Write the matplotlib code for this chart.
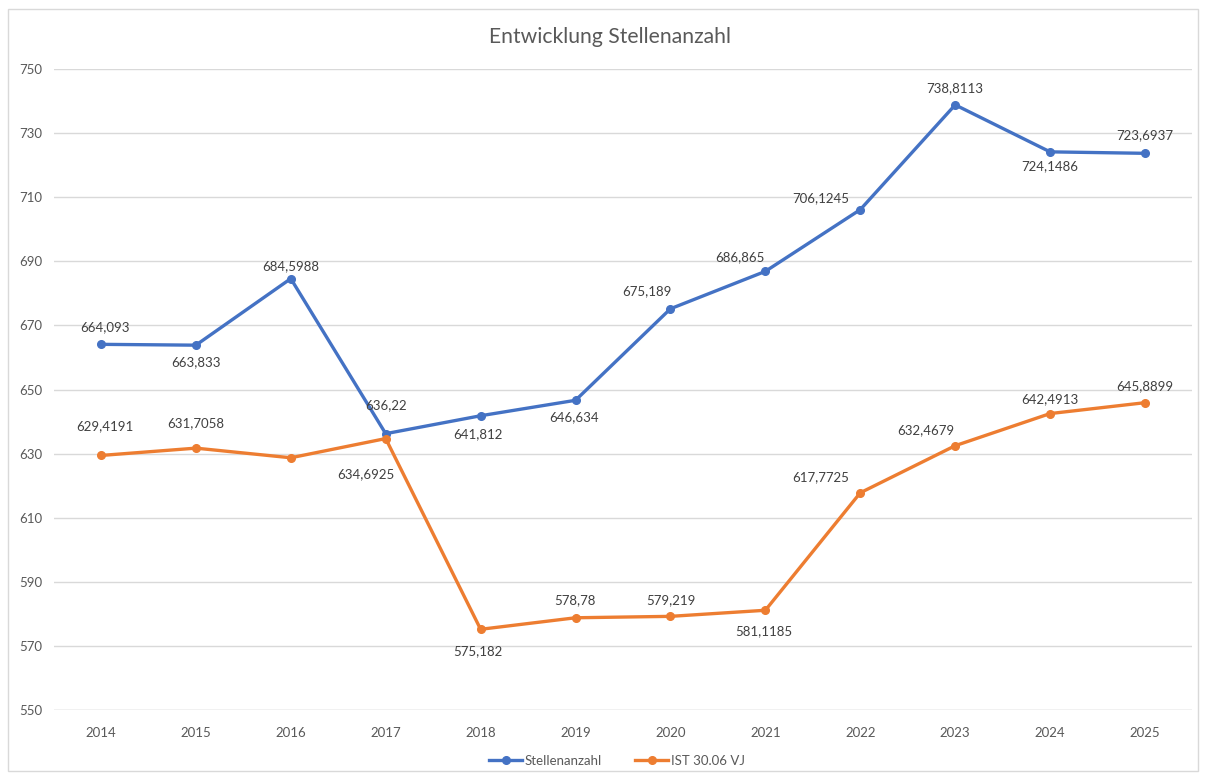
import matplotlib.pyplot as plt
from matplotlib.lines import Line2D
from matplotlib.patches import Rectangle

plt.rcParams['font.family'] = ['Lato', 'DejaVu Sans']

years = ['2014', '2015', '2016', '2017', '2018', '2019', '2020', '2021', '2022', '2023', '2024', '2025']
stellen = [664.093, 663.833, 684.5988, 636.22, 641.812, 646.634, 675.189, 686.865,
           706.1245, 738.8113, 724.1486, 723.6937]
ist = [629.4191, 631.7058, 628.7, 634.6925, 575.182, 578.78, 579.219, 581.1185,
       617.7725, 632.4679, 642.4913, 645.8899]
ist_labelled = [True, True, False, True, True, True, True, True, True, True, True, True]

# label offsets in pixels (dx, dy), screen y up
off_blue = [(4, 17), (0, -17), (0, 12), (0, 29), (-3, -18), (-1, -17),
            (-24, 18), (-25, 14), (-40, 11), (0, 17), (0, -14), (0, 18)]
off_orange = [(4, 29), (0, 25), (0, 0), (-20, -36), (-3, -22), (-1, 18),
              (0, 16), (-2, -21), (-40, 16), (-29, 16), (0, 14), (0, 17)]

blue = '#4472C4'
orange = '#ED7D31'
txt = '#595959'

fig = plt.figure(figsize=(12.05, 7.78), dpi=100)
ax = fig.add_axes([0.0444, 0.0874, 0.9452, 0.8239])

x = list(range(len(years)))
ax.plot(x, stellen, color=blue, lw=2.4, marker='o', ms=5.5, solid_capstyle='round', zorder=3)
ax.plot(x, ist, color=orange, lw=2.4, marker='o', ms=5.5, solid_capstyle='round', zorder=3)

def fmt(v):
    return str(v).replace('.', ',')

for i, v in enumerate(stellen):
    ax.annotate(fmt(v), (i, v), xytext=off_blue[i], textcoords='offset pixels',
                ha='center', va='center', fontsize=9.5, color='#404040')
for i, v in enumerate(ist):
    if ist_labelled[i]:
        ax.annotate(fmt(v), (i, v), xytext=off_orange[i], textcoords='offset pixels',
                    ha='center', va='center', fontsize=9.5, color='#404040')

ax.set_xlim(-0.5, len(years) - 0.5)
ax.set_ylim(550, 750)
ax.set_yticks(range(550, 751, 20))
ax.set_xticks(x)
ax.set_xticklabels(years)
ax.tick_params(length=0, colors=txt, labelsize=9.5)
ax.tick_params(axis='x', pad=12)
ax.tick_params(axis='y', pad=8)
ax.grid(axis='y', color='#D9D9D9', lw=1)
ax.set_axisbelow(True)
for s in ax.spines.values():
    s.set_visible(False)
ax.axhline(550, color='#D9D9D9', lw=1, zorder=1)

fig.text(0.506, 0.952, 'Entwicklung Stellenanzahl', ha='center', va='center',
         fontsize=15.2, color='#595959')

handles = [Line2D([], [], color=blue, lw=2.4, marker='o', ms=5.5),
           Line2D([], [], color=orange, lw=2.4, marker='o', ms=5.5)]
fig.legend(handles, ['Stellenanzahl', 'IST 30.06 VJ'], loc='center', ncol=2,
           bbox_to_anchor=(0.512, 0.022), frameon=False, fontsize=9.5,
           labelcolor=txt, handlelength=2.5, handletextpad=0.2, columnspacing=2.5)

fig.patches.append(Rectangle((0.007, 0.009), 0.987, 0.979, transform=fig.transFigure,
                             fill=False, edgecolor='#D9D9D9', lw=1))

fig.savefig('out.png', dpi=100)
